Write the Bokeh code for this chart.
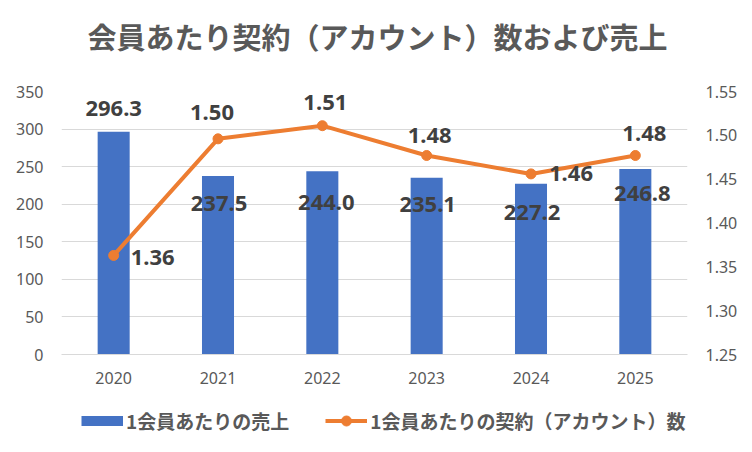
from bokeh.plotting import figure
from bokeh.layouts import column
from bokeh.models import (Range1d, LinearAxis, FactorRange, Legend, LegendItem,
                          FixedTicker, NumeralTickFormatter, ColumnDataSource)
from bokeh.core.properties import value
from bokeh.embed import file_html
from bokeh.resources import INLINE

# ---- data ----
years = ["2020", "2021", "2022", "2023", "2024", "2025"]
sales = [296.3, 237.5, 244.0, 235.1, 227.2, 246.8]          # 1会員あたりの売上
contracts = [1.363, 1.496, 1.511, 1.477, 1.456, 1.477]      # 1会員あたりの契約（アカウント）数
left_ticks = [0, 50, 100, 150, 200, 250, 300, 350]
right_ticks = [1.25, 1.30, 1.35, 1.40, 1.45, 1.50, 1.55]

title_text = "会員あたり契約（アカウント）数および売上"
sales_name = "1会員あたりの売上"
contracts_name = "1会員あたりの契約（アカウント）数"

# label placement (pixels)
bar_lbl_dx = [0, 1, 4, 1, 1, 7]
bar_lbl_dy = [-23, 27, 31, 27, 29, 24]
line_lbl_dx = [39, -6, 3, 3, 40, 9]
line_lbl_dy = [2, -26, -23, -20, 0, -22]

BLUE = "#4472C4"
ORANGE = "#ED7D31"
GREY = "#595959"
LBL = "#404040"
GRID = "#D9D9D9"
JP = "Noto Sans CJK JP"


def strip(height):
    f = figure(width=744, height=height, x_range=Range1d(0, 1), y_range=Range1d(0, 1),
               x_axis_location=None, y_axis_location=None,
               output_backend="svg", toolbar_location=None, min_border=0)
    f.outline_line_color = None
    f.xgrid.grid_line_color = None
    f.ygrid.grid_line_color = None
    return f


# ---- title strip ----
t = strip(60)
t.text(x=[0.5], y=[0.415], text=[title_text], x_offset=3,
       text_align="center", text_baseline="middle",
       text_font=value(JP), text_font_size="29px", text_font_style="bold",
       text_color=GREY)

# ---- main chart ----
p = figure(width=744, height=334,
           x_range=FactorRange(*years, range_padding=0),
           y_range=Range1d(0, 350),
           output_backend="svg", toolbar_location=None,
           min_border_left=61, min_border_right=57,
           min_border_top=31, min_border_bottom=40)
p.extra_y_ranges = {"cnt": Range1d(1.25, 1.55)}

p.outline_line_color = None
p.background_fill_color = "white"
p.border_fill_color = "white"

for ax in p.yaxis:
    ax.ticker = FixedTicker(ticks=left_ticks)
ax_r = LinearAxis(y_range_name="cnt", ticker=FixedTicker(ticks=right_ticks),
                  formatter=NumeralTickFormatter(format="0.00"))
p.add_layout(ax_r, "right")

for ax in [p.yaxis[0], ax_r]:
    ax.axis_line_color = None
    ax.major_tick_line_color = None
    ax.minor_tick_line_color = None
    ax.major_tick_out = 0
    ax.major_tick_in = 0
    ax.minor_tick_out = 0
    ax.major_label_standoff = 18
    ax.major_label_text_font = "Noto Sans"
    ax.major_label_text_font_size = "16px"
    ax.major_label_text_color = GREY

xa = p.xaxis[0]
xa.axis_line_color = GRID
xa.major_tick_line_color = None
xa.minor_tick_line_color = None
xa.major_tick_out = 0
xa.major_tick_in = 0
xa.major_label_standoff = 17
xa.major_label_text_font = "Noto Sans"
xa.major_label_text_font_size = "16px"
xa.major_label_text_color = GREY

p.xgrid.grid_line_color = None
p.ygrid.ticker = FixedTicker(ticks=left_ticks)
p.ygrid.grid_line_color = GRID
p.ygrid.grid_line_width = 1

src = ColumnDataSource(dict(
    x=years, sales=sales, contracts=contracts,
    slbl=[f"{v:.1f}" for v in sales],
    clbl=[f"{v:.2f}" for v in contracts],
    bdx=bar_lbl_dx, bdy=bar_lbl_dy, ldx=line_lbl_dx, ldy=line_lbl_dy,
))

p.vbar(x="x", top="sales", width=0.307, source=src, fill_color=BLUE, line_color=None)
p.text(x="x", y="sales", text="slbl", source=src, x_offset="bdx", y_offset="bdy",
       text_align="center", text_baseline="middle",
       text_font=value("Noto Sans"), text_font_size="22px", text_font_style="bold",
       text_color=LBL)
p.line(x="x", y="contracts", source=src, y_range_name="cnt",
       line_color=ORANGE, line_width=4)
p.scatter(x="x", y="contracts", source=src, y_range_name="cnt",
          size=10, fill_color=ORANGE, line_color=ORANGE)
p.text(x="x", y="contracts", text="clbl", source=src, y_range_name="cnt",
       x_offset="ldx", y_offset="ldy",
       text_align="center", text_baseline="middle",
       text_font=value("Noto Sans"), text_font_size="22px", text_font_style="bold",
       text_color=LBL)

# ---- legend strip ----
q = strip(50)
px = [5, 6]   # proxy swatches, outside the visible range
py = [5, 5]
lg_bar = q.line(x=px, y=py, line_color=BLUE, line_width=10)
lg_line = q.line(x=px, y=py, line_color=ORANGE, line_width=4)
lg_dot = q.scatter(x=px, y=py, fill_color=ORANGE, line_color=ORANGE)

legend = Legend(items=[LegendItem(label=sales_name, renderers=[lg_bar]),
                       LegendItem(label=contracts_name, renderers=[lg_line, lg_dot])],
                orientation="horizontal", location=(20, 10),
                border_line_color=None, background_fill_alpha=0,
                label_text_font=JP, label_text_font_size="19px",
                label_text_font_style="bold", label_text_color=GREY,
                glyph_width=42, glyph_height=25, label_standoff=3,
                spacing=36, padding=0, margin=0)
q.add_layout(legend, "center")

page = column(t, p, q, spacing=0)
open("out.html", "w").write(file_html(page, INLINE))
